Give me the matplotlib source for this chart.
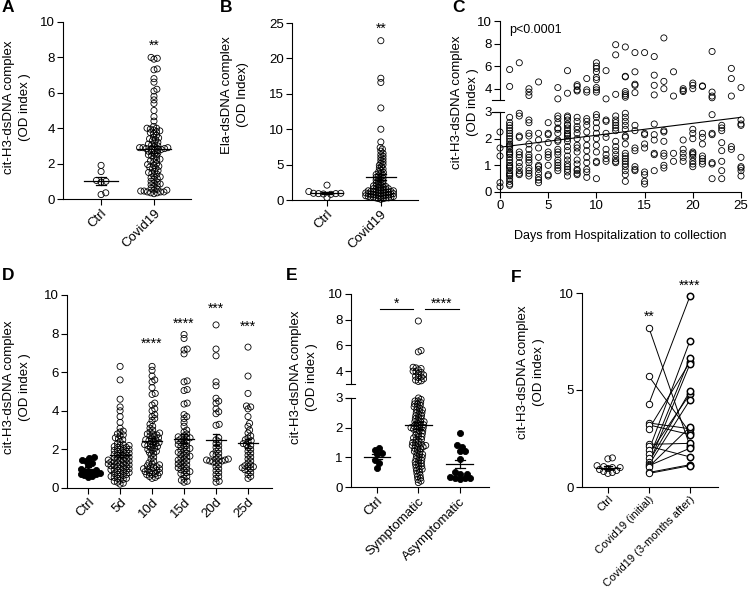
import numpy as np
import matplotlib
matplotlib.use('Agg')
import matplotlib.pyplot as plt

plt.rcParams['font.family'] = ['Liberation Sans', 'DejaVu Sans']
plt.rcParams['font.size'] = 9
plt.rcParams['axes.linewidth'] = 0.8

W, H = 748, 593

# ---------------- data ----------------
# A: cit-H3-dsDNA, Ctrl vs Covid19
a_labels = ['Ctrl', 'Covid19']
a_ctrl = [1.9, 1.55, 1.05, 1.0, 0.95, 0.35, 0.25]
a_covid = [8.0, 7.95, 7.9, 7.35, 7.3, 6.8, 6.6, 6.2, 6.1, 5.8, 5.6, 5.4, 5.0, 4.65, 4.4, 4.1,
           4.0, 4.0, 3.95, 3.9, 3.85, 3.8, 3.75, 3.7, 3.6, 3.5, 3.45, 3.4, 3.35, 3.3, 3.2, 3.15,
           3.1, 3.05, 3.0, 2.95, 2.9, 2.9, 2.9, 2.85, 2.85, 2.85, 2.8, 2.8, 2.75, 2.7, 2.65, 2.6,
           2.55, 2.5, 2.45, 2.4, 2.3, 2.25, 2.2, 2.15, 2.1, 2.0, 1.95, 1.9, 1.85, 1.8, 1.75, 1.7,
           1.6, 1.55, 1.5, 1.45, 1.4, 1.3, 1.25, 1.2, 1.15, 1.1, 1.0, 0.95, 0.9, 0.85, 0.8, 0.75,
           0.7, 0.6, 0.55, 0.5, 0.5, 0.45, 0.45, 0.4, 0.4, 0.4, 0.35, 0.35, 0.3]

# B: Ela-dsDNA, Ctrl vs Covid19
b_labels = ['Ctrl', 'Covid19']
b_ctrl = [2.1, 1.2, 0.95, 0.95, 0.9, 0.9, 0.85, 0.8, 0.35]
b_covid = [22.5, 17.2, 16.6, 13.0, 10.0, 8.2, 7.4, 7.2, 6.9, 6.6, 6.4, 6.2, 6.0, 5.8, 5.6, 5.4,
           5.2, 5.0, 4.9, 4.7, 4.5, 4.4, 4.2, 4.0, 3.9, 3.8, 3.6, 3.5, 3.4, 3.3, 3.2, 3.1, 3.0,
           2.9, 2.8, 2.7, 2.6, 2.5, 2.4, 2.3, 2.2, 2.1, 2.0, 2.0, 1.9, 1.8, 1.8, 1.7, 1.6, 1.6,
           1.5, 1.5, 1.4, 1.4, 1.3, 1.3, 1.3, 1.2, 1.2, 1.2, 1.1, 1.1, 1.1, 1.0, 1.0, 1.0, 0.9,
           0.9, 0.9, 0.8, 0.8, 0.8, 0.7, 0.7, 0.7, 0.6, 0.6, 0.6, 0.5, 0.5, 0.5, 0.4, 0.4, 0.4,
           0.3, 0.3, 0.3, 0.2, 0.2, 0.1]

# C: value vs days from hospitalization (one list per day 0..25)
c_days = list(range(26))
c_values = [
    [2.25, 1.65, 1.35, 0.35, 0.2],
    [5.7, 4.2, 2.8, 2.6, 2.5, 2.4, 2.3, 2.2, 2.1, 2.0, 1.9, 1.8, 1.75, 1.7, 1.6, 1.5, 1.45, 1.4,
     1.3, 1.2, 1.1, 1.0, 0.95, 0.9, 0.8, 0.7, 0.65, 0.6, 0.5, 0.4, 0.3, 0.25],
    [6.3, 2.95, 2.85, 2.1, 2.05, 1.5, 1.4, 1.3, 1.1, 0.95, 0.8, 0.7, 0.65],
    [4.0, 3.7, 3.4, 2.7, 2.6, 2.2, 2.1, 1.8, 1.6, 1.4, 1.3, 1.2, 1.1, 0.9, 0.8, 0.7, 0.6],
    [4.6, 2.2, 1.95, 1.65, 1.3, 1.0, 0.95, 0.85, 0.7, 0.55, 0.45, 0.35],
    [2.6, 2.2, 2.15, 1.85, 1.5, 1.4, 1.3, 1.0, 0.65, 0.6],
    [4.1, 3.1, 2.85, 2.75, 2.6, 2.4, 2.35, 2.2, 1.95, 1.9, 1.6, 1.5, 1.4, 1.2, 1.1, 1.0, 0.9, 0.8],
    [5.6, 3.6, 2.85, 2.8, 2.7, 2.55, 2.5, 2.4, 2.3, 2.2, 2.15, 2.1, 2.0, 1.9, 1.7, 1.55, 1.35,
     1.2, 1.05, 0.95, 0.85, 0.75, 0.6],
    [4.35, 4.2, 3.9, 3.8, 2.8, 2.65, 2.45, 2.35, 2.2, 2.0, 1.75, 1.65, 1.5, 1.2, 1.05, 0.85, 0.8,
     0.7, 0.65],
    [4.9, 3.9, 3.7, 2.75, 2.65, 2.5, 2.25, 2.0, 1.75, 1.55, 1.3, 1.1, 0.85, 0.75, 0.55],
    [6.3, 6.0, 5.8, 5.5, 5.0, 4.8, 4.1, 3.9, 3.7, 2.9, 2.8, 2.6, 2.4, 2.2, 2.0, 1.75, 1.5, 1.15,
     1.1, 0.5],
    [5.6, 3.1, 2.7, 2.65, 2.2, 2.05, 1.6, 1.4, 1.25, 1.15],
    [7.9, 7.0, 3.5, 2.85, 2.7, 2.6, 2.5, 2.4, 2.3, 1.9, 1.7, 1.55, 1.4, 1.25, 1.15, 1.1],
    [7.7, 5.1, 5.05, 3.75, 3.55, 3.4, 3.25, 2.95, 2.8, 2.65, 2.5, 2.35, 2.1, 2.05, 1.8, 1.45,
     1.35, 1.25, 1.15, 1.05, 0.95, 0.8, 0.65, 0.4],
    [7.2, 5.5, 4.4, 4.3, 3.65, 2.5, 2.3, 1.65, 1.55, 0.95, 0.85, 0.8],
    [7.2, 2.2, 2.15, 1.8, 1.65, 0.75, 0.65, 0.4, 0.3],
    [6.85, 5.2, 4.3, 3.45, 2.55, 2.15, 1.95, 1.45, 1.4, 0.8],
    [8.5, 4.65, 4.0, 2.3, 2.25, 1.9, 1.45, 1.35, 1.0, 0.9],
    [5.5, 3.35, 1.45, 1.15],
    [4.0, 3.85, 3.75, 1.95, 1.6, 1.45, 1.3, 1.15],
    [4.5, 4.3, 4.0, 2.35, 2.2, 2.0, 1.5, 1.45, 1.4, 1.3, 1.15, 1.05, 0.95],
    [4.25, 4.2, 2.2, 2.05, 1.8, 1.35, 1.25, 1.15, 1.05],
    [7.3, 3.7, 3.35, 3.2, 2.9, 2.2, 2.15, 1.1, 1.05, 0.5],
    [2.5, 2.4, 2.3, 1.85, 1.55, 1.15, 0.8, 0.5],
    [5.8, 4.9, 3.35, 1.7, 1.6],
    [4.1, 2.7, 2.55, 2.5, 1.3, 0.95, 0.9, 0.8, 0.6],
]
c_fit_ends = [1.68, 2.8]   # linear regression line at day 0 and day 25

# D: cit-H3-dsDNA by days
d_labels = ['Ctrl', '5d', '10d', '15d', '20d', '25d']
d_ctrl = [1.6, 1.55, 1.45, 1.4, 1.3, 1.2, 1.0, 0.95, 0.9, 0.85, 0.8, 0.8, 0.75, 0.7, 0.65, 0.6, 0.55]
d_5d = [6.3, 5.6, 4.6, 4.2, 4.0, 3.7, 3.4, 3.1, 2.95, 2.9, 2.8, 2.75, 2.7, 2.6, 2.55, 2.5, 2.4,
        2.3, 2.25, 2.2, 2.2, 2.15, 2.1, 2.1, 2.05, 2.0, 2.0, 1.95, 1.9, 1.9, 1.85, 1.8, 1.8, 1.75,
        1.7, 1.7, 1.65, 1.6, 1.6, 1.55, 1.5, 1.5, 1.45, 1.45, 1.4, 1.4, 1.35, 1.35, 1.3, 1.3,
        1.25, 1.25, 1.2, 1.2, 1.15, 1.15, 1.1, 1.1, 1.05, 1.0, 1.0, 0.95, 0.95, 0.9, 0.9, 0.85,
        0.8, 0.8, 0.75, 0.7, 0.7, 0.65, 0.6, 0.6, 0.55, 0.5, 0.5, 0.45, 0.4, 0.35, 0.3, 0.25, 0.2]
d_10d = [6.3, 6.1, 5.8, 5.6, 5.5, 5.2, 4.9, 4.85, 4.4, 4.3, 4.1, 4.0, 3.8, 3.7, 3.6, 3.5, 3.3,
         3.2, 3.1, 3.0, 2.9, 2.85, 2.8, 2.8, 2.75, 2.7, 2.65, 2.6, 2.55, 2.5, 2.5, 2.45, 2.4,
         2.35, 2.3, 2.3, 2.25, 2.2, 2.2, 2.15, 2.1, 2.05, 2.0, 1.95, 1.9, 1.85, 1.8, 1.7, 1.6,
         1.5, 1.4, 1.3, 1.25, 1.2, 1.15, 1.1, 1.1, 1.05, 1.0, 1.0, 0.95, 0.9, 0.9, 0.85, 0.8,
         0.8, 0.75, 0.7, 0.7, 0.65, 0.6, 0.55, 0.5]
d_15d = [7.95, 7.75, 7.2, 7.15, 6.95, 5.55, 5.5, 5.1, 5.05, 4.4, 4.35, 3.8, 3.7, 3.6, 3.4, 3.2,
         3.0, 2.9, 2.8, 2.7, 2.65, 2.6, 2.6, 2.55, 2.5, 2.45, 2.4, 2.35, 2.3, 2.25, 2.2, 2.15,
         2.1, 2.05, 2.0, 1.95, 1.9, 1.85, 1.8, 1.75, 1.7, 1.65, 1.6, 1.55, 1.5, 1.45, 1.4, 1.35,
         1.3, 1.25, 1.2, 1.15, 1.1, 1.05, 1.0, 0.95, 0.9, 0.85, 0.8, 0.75, 0.7, 0.6, 0.5, 0.4,
         0.35, 0.3]
d_20d = [8.45, 7.2, 6.85, 5.5, 5.3, 4.65, 4.5, 4.4, 4.1, 3.95, 3.85, 3.3, 3.25, 2.6, 2.5, 2.4,
         2.3, 2.2, 2.1, 2.0, 1.9, 1.8, 1.75, 1.7, 1.6, 1.5, 1.5, 1.45, 1.45, 1.4, 1.4, 1.4, 1.35,
         1.3, 1.2, 1.1, 1.0, 0.9, 0.8, 0.7, 0.6, 0.5, 0.35, 0.3]
d_25d = [7.3, 5.8, 4.9, 4.25, 4.2, 4.1, 3.7, 3.35, 3.2, 3.0, 2.85, 2.7, 2.6, 2.5, 2.45, 2.4,
         2.3, 2.25, 2.2, 2.1, 2.0, 1.9, 1.8, 1.7, 1.6, 1.5, 1.4, 1.3, 1.2, 1.15, 1.1, 1.1, 1.05,
         1.0, 0.95, 0.9, 0.8, 0.7, 0.6, 0.5]
d_stars = ['', '', '****', '****', '***', '***']
d_star_y = [0, 0, 7.65, 8.7, 9.45, 8.55]

# E: symptomatic vs asymptomatic
e_labels = ['Ctrl', 'Symptomatic', 'Asymptomatic']
e_ctrl = [1.33, 1.25, 1.15, 1.1, 0.9, 0.8, 0.65]
e_sym = [7.9, 5.6, 5.5, 4.3, 4.25, 4.2, 4.1, 4.0, 3.95, 3.9, 3.8, 3.7, 3.6, 3.55, 3.5, 3.4, 3.3,
         3.25, 3.2, 3.0, 2.95, 2.9, 2.9, 2.85, 2.8, 2.8, 2.75, 2.7, 2.7, 2.65, 2.6, 2.6, 2.55,
         2.5, 2.5, 2.45, 2.4, 2.4, 2.35, 2.3, 2.3, 2.25, 2.2, 2.2, 2.2, 2.15, 2.1, 2.1, 2.05,
         2.05, 2.0, 2.0, 2.0, 1.95, 1.95, 1.9, 1.9, 1.85, 1.8, 1.8, 1.75, 1.7, 1.7, 1.65, 1.6,
         1.6, 1.55, 1.5, 1.5, 1.45, 1.45, 1.4, 1.4, 1.4, 1.35, 1.35, 1.3, 1.3, 1.25, 1.2, 1.2,
         1.15, 1.1, 1.1, 1.05, 1.0, 1.0, 0.95, 0.9, 0.9, 0.85, 0.8, 0.8, 0.75, 0.7, 0.7, 0.65,
         0.6, 0.6, 0.55, 0.5, 0.45, 0.4, 0.35, 0.3, 0.25, 0.2, 0.15]
e_asym = [1.82, 1.4, 1.35, 1.2, 1.2, 0.95, 0.5, 0.45, 0.45, 0.35, 0.3, 0.3, 0.3, 0.28]

# F: paired initial / 3-months after
f_labels = ['Ctrl', 'Covid19 (initial)', 'Covid19 (3-months after)']
f_ctrl = [1.5, 1.45, 1.1, 1.05, 1.0, 1.0, 0.95, 0.9, 0.85, 0.8, 0.75, 0.7]
f_initial = [8.2, 5.7, 4.3, 3.3, 3.2, 3.0, 2.2, 2.1, 1.9, 1.7, 1.5, 1.3, 1.2, 1.15, 1.1, 1.05, 0.75, 0.7]
f_after = [2.1, 2.8, 9.85, 3.0, 2.7, 6.45, 2.25, 1.55, 7.55, 4.8, 6.65, 4.95, 6.35, 4.5, 2.0, 3.1, 1.15, 1.1]

# ---------------- helpers ----------------
fig = plt.figure(figsize=(W / 100, H / 100), dpi=100)

TICK_FS = 9.5
LAB_FS = 9.5


def add_ax(x0, y0, x1, y1):
    return fig.add_axes([x0 / W, 1 - y1 / H, (x1 - x0) / W, (y1 - y0) / H])


def style(ax, bottom=True):
    ax.spines['top'].set_visible(False)
    ax.spines['right'].set_visible(False)
    ax.spines['bottom'].set_visible(bottom)
    ax.tick_params(direction='out', length=4, width=0.8, labelsize=TICK_FS, pad=2)
    ax.patch.set_alpha(0)


def swarm(ypx, d):
    # greedy beeswarm in pixel units
    ypx = np.asarray(ypx, float)
    order = np.argsort(ypx)
    xs = np.zeros(len(ypx))
    done = []
    for i in order:
        near = [j for j in done if abs(ypx[j] - ypx[i]) < d]
        cands = [0.0]
        for j in near:
            dx = np.sqrt(d * d - (ypx[j] - ypx[i]) ** 2)
            cands += [xs[j] + dx, xs[j] - dx]
        cands.sort(key=abs)
        for c in cands:
            if all((xs[j] - c) ** 2 + (ypx[j] - ypx[i]) ** 2 >= d * d - 1e-6 for j in near):
                xs[i] = c
                break
        done.append(i)
    return xs


def ypix(ax, vals):
    vals = np.asarray(vals, float)
    return ax.transData.transform(np.column_stack([np.zeros(len(vals)), vals]))[:, 1]


def xscale(ax):
    lo, hi = ax.get_xlim()
    return ax.bbox.width / (hi - lo)


def dots(ax, x, vals, d, filled=False, ms=4.4):
    vals = np.asarray(vals, float)
    off = swarm(ypix(ax, vals), d) / xscale(ax)
    ax.scatter(x + off, vals, s=ms ** 2, facecolors='k' if filled else 'none',
               edgecolors='k', linewidths=0.6, clip_on=False, zorder=3)


def mean_sem(ax, x, vals, hw=0.3, cw=0.1, lw=0.9):
    m = np.mean(vals)
    se = np.std(vals, ddof=1) / np.sqrt(len(vals))
    ax.plot([x - hw, x + hw], [m, m], color='k', lw=lw, zorder=4)
    ax.plot([x, x], [m - se, m + se], color='k', lw=lw, zorder=4)
    ax.plot([x - cw, x + cw], [m + se, m + se], color='k', lw=lw, zorder=4)
    ax.plot([x - cw, x + cw], [m - se, m - se], color='k', lw=lw, zorder=4)


def cat_ticks(ax, labels, fs=TICK_FS):
    ax.set_xticks(range(len(labels)))
    ax.set_xticklabels(labels, rotation=45, ha='right', rotation_mode='anchor', fontsize=fs)


def stars(ax, x, y, s):
    ax.annotate(s, (x, y), xytext=(0, -5.5), textcoords='offset points',
                ha='center', va='baseline', fontsize=10, annotation_clip=False)


def break_mark(ax, ypos, left_px, right_px):
    w = ax.bbox.width
    ax.plot([-left_px / w, right_px / w], [ypos, ypos], color='k', lw=0.8,
            transform=ax.transAxes, clip_on=False)


def ylab(x, y, s):
    fig.text(x / W, 1 - y / H, s, rotation=90, ha='center', va='center',
             fontsize=LAB_FS, linespacing=1.35, multialignment='center')


def letter(x, y, s):
    fig.text(x / W, 1 - y / H, s, ha='left', va='center', fontsize=12.5, fontweight='bold')


# ---------------- A ----------------
ax = add_ax(63, 22, 191, 199)
style(ax)
ax.set_xlim(-0.72, 1.70)
ax.set_ylim(0, 10)
ax.set_yticks([0, 2, 4, 6, 8, 10])
cat_ticks(ax, a_labels)
dots(ax, 0, a_ctrl, 5.0)
dots(ax, 1, a_covid, 3.4)
mean_sem(ax, 0, a_ctrl, hw=0.32)
mean_sem(ax, 1, a_covid, hw=0.32)
stars(ax, 1, 8.85, '**')
ylab(17, 107, 'cit-H3-dsDNA complex\n(OD index )')
letter(2, 8, 'A')

# ---------------- B ----------------
ax = add_ax(292, 23, 418, 200)
style(ax)
ax.set_xlim(-0.65, 1.69)
ax.set_ylim(0, 25)
ax.set_yticks([0, 5, 10, 15, 20, 25])
cat_ticks(ax, b_labels)
dots(ax, 0, b_ctrl, 5.0)
dots(ax, 1, b_covid, 2.6)
mean_sem(ax, 0, b_ctrl, hw=0.3)
mean_sem(ax, 1, b_covid, hw=0.28)
stars(ax, 1, 24.7, '**')
ylab(235, 95, 'Ela-dsDNA complex\n(OD Index)')
letter(220, 8, 'B')

# ---------------- C (broken y axis) ----------------
c_x = np.concatenate([[d] * len(v) for d, v in zip(c_days, c_values)])
c_y = np.concatenate([np.asarray(v, float) for v in c_values])
hi = c_y > 3

axu = add_ax(500, 21, 741, 100)
axl = add_ax(500, 112, 741, 192)
style(axu, bottom=False)
style(axl)
axu.set_xlim(0, 25)
axl.set_xlim(0, 25)
axu.set_ylim(3, 10)
axl.set_ylim(0, 3)
axu.set_xticks([])
axu.set_yticks([4, 6, 8, 10])
axl.set_yticks([0, 1, 2, 3])
axl.set_xticks([0, 5, 10, 15, 20, 25])
axu.scatter(c_x[hi], c_y[hi], s=4.4 ** 2, facecolors='none', edgecolors='k',
            linewidths=0.6, clip_on=False)
axl.scatter(c_x[~hi], c_y[~hi], s=4.4 ** 2, facecolors='none', edgecolors='k',
            linewidths=0.6, clip_on=False)
axl.plot([c_days[0], c_days[-1]], c_fit_ends, color='k', lw=0.8)
break_mark(axu, 0, 8, 4)
break_mark(axl, 1, 8, 4)
axu.text(1, 9.2, 'p<0.0001', fontsize=9, va='center')
axl.set_xlabel('Days from Hospitalization to collection', fontsize=9, labelpad=13)
ylab(465, 102, 'cit-H3-dsDNA complex\n(OD index )')
letter(452, 8, 'C')

# ---------------- D ----------------
ax = add_ax(67, 295, 272, 488)
style(ax)
ax.set_xlim(-0.66, 5.75)
ax.set_ylim(0, 10)
ax.set_yticks([0, 2, 4, 6, 8, 10])
cat_ticks(ax, d_labels)
d_groups = [d_ctrl, d_5d, d_10d, d_15d, d_20d, d_25d]
for i, g in enumerate(d_groups):
    dots(ax, i, g, 3.3 if i else 4.2, filled=(i == 0))
    mean_sem(ax, i, g, hw=0.3, cw=0.1)
    if d_stars[i]:
        stars(ax, i, d_star_y[i], d_stars[i])
ylab(17, 387, 'cit-H3-dsDNA complex\n(OD index )')
letter(2, 275, 'D')

# ---------------- E (broken y axis) ----------------
eu = add_ax(351, 294, 489, 384)
el = add_ax(351, 398, 489, 487)
style(eu, bottom=False)
style(el)
for a in (eu, el):
    a.set_xlim(-0.63, 2.71)
eu.set_ylim(3, 10)
el.set_ylim(0, 3)
eu.set_xticks([])
eu.set_yticks([4, 6, 8, 10])
el.set_yticks([0, 1, 2, 3])
cat_ticks(el, e_labels)
e_groups = [e_ctrl, e_sym, e_asym]
for i, g in enumerate(e_groups):
    g = np.asarray(g, float)
    up = g > 3
    ypx = np.where(up, ypix(eu, g), ypix(el, g))
    d = 5.0 if i != 1 else 3.0
    off = swarm(ypx, d) / xscale(el)
    filled = i != 1
    for a, m in ((eu, up), (el, ~up)):
        a.scatter(i + off[m], g[m], s=4.4 ** 2, facecolors='k' if filled else 'none',
                  edgecolors='k', linewidths=0.6, clip_on=False, zorder=3)
    mean_sem(el, i, g, hw=0.32, cw=0.12)
break_mark(eu, 0, 5, 4)
break_mark(el, 1, 5, 4)
eu.plot([0.07, 0.88], [8.8, 8.8], color='k', lw=0.8)
eu.plot([1.17, 1.98], [8.8, 8.8], color='k', lw=0.8)
stars(eu, 0.48, 9.5, '*')
stars(eu, 1.57, 9.5, '****')
ylab(304, 377, 'cit-H3-dsDNA complex\n(OD index )')
letter(286, 275, 'E')

# ---------------- F ----------------
ax = add_ax(582, 293, 718, 487)
style(ax)
ax.set_xlim(-0.63, 2.68)
ax.set_ylim(0, 10)
ax.set_yticks([0, 5, 10])
cat_ticks(ax, f_labels, fs=8)
ax.tick_params(axis='x', pad=1)
dots(ax, 0, f_ctrl, 4.6)
mean_sem(ax, 0, f_ctrl, hw=0.3, cw=0.1)
for y0, y1 in zip(f_initial, f_after):
    ax.plot([1, 2], [y0, y1], color='k', lw=0.7, zorder=2)
ax.scatter(np.ones(len(f_initial)), f_initial, s=4.6 ** 2, facecolors='white',
           edgecolors='k', linewidths=0.7, clip_on=False, zorder=3)
ax.scatter(np.full(len(f_after), 2), f_after, s=4.6 ** 2, facecolors='white',
           edgecolors='k', linewidths=1.1, clip_on=False, zorder=3)
stars(ax, 1, 8.95, '**')
stars(ax, 2, 10.55, '****')
ylab(531, 372, 'cit-H3-dsDNA complex\n(OD index )')
letter(511, 277, 'F')

fig.savefig('out.png', dpi=100)
